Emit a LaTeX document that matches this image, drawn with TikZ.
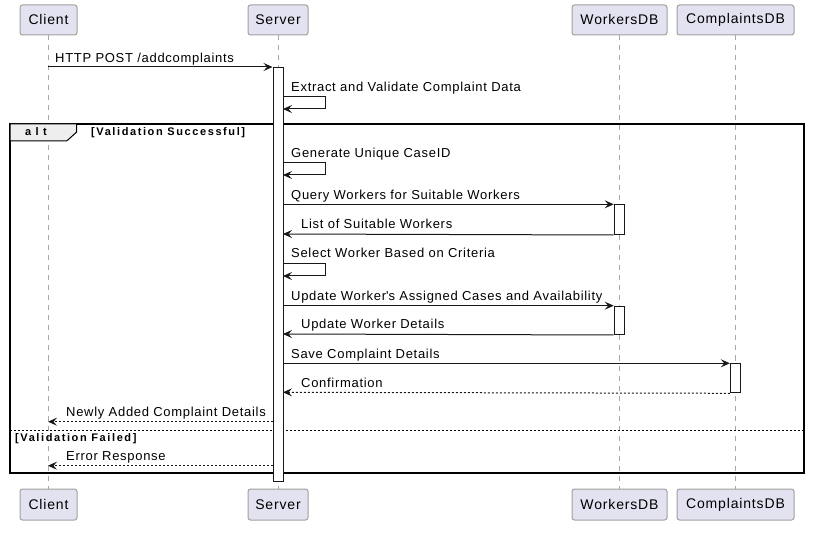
\documentclass[tikz,border=0pt]{standalone}
\usepackage{fontspec}
\setmainfont{Liberation Sans}
\usetikzlibrary{arrows.meta}
\definecolor{partfill}{HTML}{E2E2F0}
\definecolor{partdraw}{HTML}{A0A0A0}
\definecolor{lifeclr}{HTML}{A8A8A8}
\definecolor{lineclr}{HTML}{181818}
\definecolor{tabfill}{HTML}{EEEEEE}
\begin{document}
\begin{tikzpicture}[x=1pt,y=-1pt,
  part/.style={draw=partdraw,fill=partfill,rounded corners=2.5pt,minimum height=30pt,inner sep=0pt,font=\fontsize{14}{16}\selectfont\addfontfeatures{LetterSpace=6},line width=1pt},
  life/.style={draw=lifeclr,dash pattern=on 5pt off 5pt,line width=1pt},
  actbar/.style={draw=lineclr,fill=white,line width=1pt},
  msg/.style={draw=lineclr,line width=1pt,-{Stealth[length=9pt,width=8pt,inset=3.5pt]}},
  ret/.style={msg,dash pattern=on 2pt off 2pt},
  lbl/.style={anchor=base west,inner sep=0pt,font=\fontsize{13}{15}\selectfont\addfontfeatures{LetterSpace=5.4}},
  guard/.style={anchor=base west,inner sep=0pt,font=\fontsize{11}{13}\selectfont\bfseries\addfontfeatures{LetterSpace=14.5}}
]
\useasboundingbox (0,0) rectangle (824,534);
% participants top
\node[part,minimum width=57pt] (c1) at (48.5,20) {Client};
\node[part,minimum width=60pt] (s1) at (278,20) {Server};
\node[part,minimum width=95pt] (w1) at (619.5,20) {WorkersDB};
\node[part,minimum width=117pt] (d1) at (735.5,20) {ComplaintsDB};
% participants bottom
\node[part,minimum width=57pt,minimum height=31pt] (c2) at (48.5,504.5) {Client};
\node[part,minimum width=60pt,minimum height=31pt] (s2) at (278,504.5) {Server};
\node[part,minimum width=95pt,minimum height=31pt] (w2) at (619.5,504.5) {WorkersDB};
\node[part,minimum width=117pt,minimum height=31pt] (d2) at (735.5,504.5) {ComplaintsDB};
% lifelines
\draw[life] (c1.south) -- (c2.north);
\draw[life] (s1.south) -- (s2.north);
\draw[life] (w1.south) -- (w2.north);
\draw[life] (d1.south) -- (d2.north);
% alt frame
\draw[line width=1.8pt,draw=black] (10,124) rectangle (804,473);
\draw[line width=1pt,fill=tabfill] (10,124) -- (76.7,124) -- (76.7,132) -- (66.7,141) -- (10,141) -- cycle;
\node[guard,font=\fontsize{11}{13}\selectfont\bfseries\addfontfeatures{LetterSpace=40}] (altl) at (25,136) {alt};
\node[guard] (g1) at (91,136) {[Validation Successful]};
\draw[line width=1pt,dash pattern=on 2pt off 2pt] (10,430.7) -- (804,430.7);
\node[guard] (g2) at (15,441) {[Validation Failed]};
% activation bars
\node[actbar,minimum width=10pt,minimum height=414pt,inner sep=0pt,anchor=north] (sa) at (278,67) {};
\node[actbar,minimum width=10pt,minimum height=29.7pt,inner sep=0pt,anchor=north] (wa1) at (619.2,204.3) {};
\node[actbar,minimum width=10pt,minimum height=28.3pt,inner sep=0pt,anchor=north] (wa2) at (619.2,305.7) {};
\node[actbar,minimum width=10pt,minimum height=29pt,inner sep=0pt,anchor=north] (da) at (735.3,363.3) {};
% messages
\coordinate (cl1) at (48,67);
\draw[msg] (cl1) -- (sa.north west);
\node[lbl] (m1) at (55,62.3) {HTTP POST /addcomplaints};
% self 1
\coordinate (x1a) at (283,96.7); \coordinate (x1b) at (325,96.7);
\coordinate (x1c) at (325,109); \coordinate (x1d) at (283,109);
\draw[msg] (x1a) -- (x1b) -- (x1c) -- (x1d);
\node[lbl] (m2) at (291,91.2) {Extract and Validate Complaint Data};
% self 2
\coordinate (x2a) at (283,162.7); \coordinate (x2b) at (325,162.7);
\coordinate (x2c) at (325,175); \coordinate (x2d) at (283,175);
\draw[msg] (x2a) -- (x2b) -- (x2c) -- (x2d);
\node[lbl] (m3) at (291,157.2) {Generate Unique CaseID};
% query
\coordinate (q1) at (283,204.3);
\draw[msg] (q1) -- (wa1.north west);
\node[lbl] (m4) at (291,199.3) {Query Workers for Suitable Workers};
\coordinate (q2) at (283,234);
\draw[msg] (wa1.south west) -- (q2);
\node[lbl] (m5) at (301,229) {List of Suitable Workers};
% self 3
\coordinate (x3a) at (283,263.3); \coordinate (x3b) at (325,263.3);
\coordinate (x3c) at (325,276); \coordinate (x3d) at (283,276);
\draw[msg] (x3a) -- (x3b) -- (x3c) -- (x3d);
\node[lbl] (m6) at (291,257.8) {Select Worker Based on Criteria};
% update
\coordinate (u1) at (283,305.7);
\draw[msg] (u1) -- (wa2.north west);
\node[lbl] (m7) at (291,300.2) {Update Worker\textquotesingle s Assigned Cases and Availability};
\coordinate (u2) at (283,334);
\draw[msg] (wa2.south west) -- (u2);
\node[lbl] (m8) at (301,329) {Update Worker Details};
% save
\coordinate (sv1) at (283,363.3);
\draw[msg] (sv1) -- (da.north west);
\node[lbl] (m9) at (291,358.3) {Save Complaint Details};
\coordinate (sv2) at (283,392.3);
\draw[ret] (da.south west) -- (sv2);
\node[lbl] (m10) at (301,387.3) {Confirmation};
% returns to client
\coordinate (r1) at (48,421.7);
\draw[ret] (sa.west |- r1) -- (r1);
\node[lbl] (m11) at (66,416.7) {Newly Added Complaint Details};
\coordinate (r2) at (48,465.7);
\draw[ret] (sa.west |- r2) -- (r2);
\node[lbl] (m12) at (66,460.7) {Error Response};
\end{tikzpicture}
\end{document}
